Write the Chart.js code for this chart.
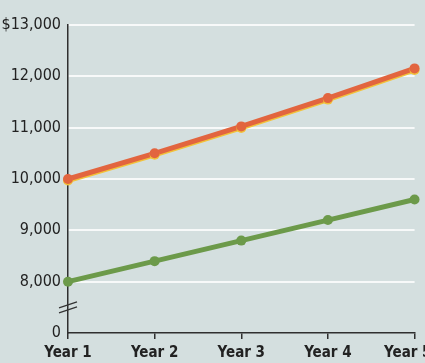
<!DOCTYPE html>
<html>
<head>
<meta charset="utf-8">
<script src="https://cdn.jsdelivr.net/npm/chart.js@4"></script>
<style>
  html, body { margin: 0; padding: 0; background: #d4dfdf; overflow: hidden; }
  #wrap { position: relative; width: 450px; height: 363px; }
</style>
</head>
<body>
<div id="wrap"><canvas id="c"></canvas></div>
<script>
// Five years of two savings balances
const years = ['Year 1', 'Year 2', 'Year 3', 'Year 4', 'Year 5'];
const compoundValues = [10000, 10500, 11025, 11576, 12155];
const simpleValues = [8000, 8400, 8800, 9200, 9600];
// Axis: bottom tick stands for zero, with a break drawn above it
const axisBase = 7000;
const axisTop = 13000;
const axisStep = 1000;

const FONT = '"Liberation Sans Narrow", "DejaVu Sans Condensed", "Liberation Sans", sans-serif';

const paintBackground = {
  id: 'paintBackground',
  beforeDraw(chart) {
    const { ctx, width, height } = chart;
    ctx.save();
    ctx.fillStyle = '#d4dfdf';
    ctx.fillRect(0, 0, width, height);
    ctx.restore();
  }
};

// thin yellow edge under the orange line
const lineEdge = {
  id: 'lineEdge',
  beforeDatasetDraw(chart, args) {
    if (args.index === 0) {
      const ctx = chart.ctx;
      ctx.save();
      ctx.shadowColor = '#f2c23a';
      ctx.shadowOffsetX = 0;
      ctx.shadowOffsetY = 1.5;
      ctx.shadowBlur = 0;
    }
  },
  afterDatasetDraw(chart, args) {
    if (args.index === 0) chart.ctx.restore();
  }
};

// axis break marks between the zero tick and the first real tick
const axisBreak = {
  id: 'axisBreak',
  afterDraw(chart) {
    const { ctx } = chart;
    const y = chart.scales.y;
    const x0 = y.right;
    const yMid = y.getPixelForValue(axisBase + axisStep * 0.5);
    ctx.save();
    ctx.strokeStyle = '#333';
    ctx.lineWidth = 1.3;
    [-2.5, 2.5].forEach(d => {
      ctx.beginPath();
      ctx.moveTo(x0 - 9, yMid + d + 3);
      ctx.lineTo(x0 + 9, yMid + d - 3);
      ctx.stroke();
    });
    ctx.restore();
  }
};

new Chart(document.getElementById('c'), {
  type: 'line',
  data: {
    labels: years,
    datasets: [
      {
        data: compoundValues,
        borderColor: '#e2653f',
        backgroundColor: '#e2653f',
        borderWidth: 5,
        pointRadius: 5,
        pointHoverRadius: 5,
        pointBorderWidth: 0,
        tension: 0,
        clip: false
      },
      {
        data: simpleValues,
        borderColor: '#6c9a4a',
        backgroundColor: '#6c9a4a',
        borderWidth: 5,
        pointRadius: 5,
        pointHoverRadius: 5,
        pointBorderWidth: 0,
        tension: 0,
        clip: false
      }
    ]
  },
  options: {
    responsive: true,
    maintainAspectRatio: false,
    animation: false,
    events: [],
    layout: { padding: { top: 25, left: 0, right: 0, bottom: 0 } },
    plugins: {
      legend: { display: false },
      tooltip: { enabled: false }
    },
    scales: {
      x: {
        offset: false,
        border: { display: true, color: '#2f2f2f', width: 1.5 },
        grid: {
          drawOnChartArea: false,
          drawTicks: true,
          tickLength: 6,
          color: '#2f2f2f',
          lineWidth: 1.5
        },
        ticks: {
          color: '#222',
          font: { family: FONT, size: 15, weight: 'bold' },
          padding: 5,
          maxRotation: 0,
          autoSkip: false,
          // last label sits a little left of its tick
          callback: (v, i) => i === years.length - 1 ? years[i] + '\u2003' : years[i]
        },
        afterFit: scale => { scale.height = 30; }
      },
      y: {
        min: axisBase,
        max: axisTop,
        border: { display: true, color: '#2f2f2f', width: 1.5 },
        grid: {
          drawTicks: false,
          lineWidth: 2,
          color: ctx => (ctx.tick && ctx.tick.value === axisBase) ? 'rgba(0,0,0,0)' : '#f7f9f9'
        },
        ticks: {
          stepSize: axisStep,
          color: '#222',
          padding: 7,
          font: { family: FONT, size: 16 },
          callback: v => {
            if (v === axisBase) return '0';
            const s = v.toLocaleString('en-US');
            return v === axisTop ? '$' + s : s;
          }
        },
        afterFit: scale => { scale.width = 68; }
      }
    }
  },
  plugins: [paintBackground, lineEdge, axisBreak]
});
</script>
</body>
</html>
